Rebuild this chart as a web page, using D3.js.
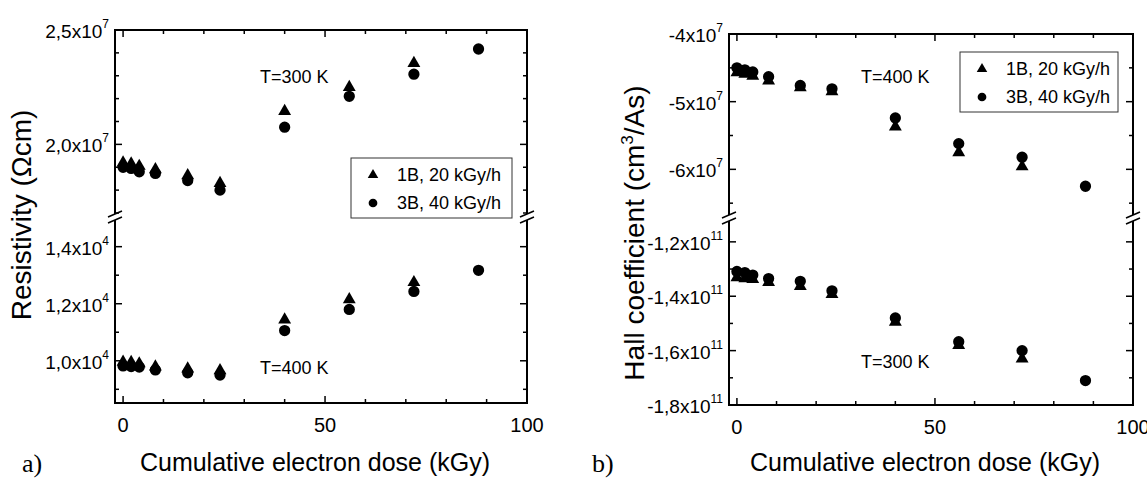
<!DOCTYPE html>
<html>
<head>
<meta charset="utf-8">
<script src="https://cdn.jsdelivr.net/npm/d3@7"></script>
<style>
  body { margin: 0; background: white; }
  text { font-family: "Liberation Sans", Arial, sans-serif; fill: black; }
  .panel-tag { font-family: "Liberation Serif", "Times New Roman", serif; }
</style>
</head>
<body>
<svg id="chart" width="1147" height="482"></svg>
<script>
// dosis acumulada (kGy)
const dose = [0, 2, 4, 8, 16, 24, 40, 56, 72, 88]

// a) resistividad
const rho300_1B = [1.92e7, 1.915e7, 1.905e7, 1.89e7, 1.864e7, 1.83e7, 2.145e7, 2.25e7, 2.355e7, null]
const rho300_3B = [1.90e7, 1.895e7, 1.88e7, 1.873e7, 1.842e7, 1.80e7, 2.075e7, 2.21e7, 2.307e7, 2.417e7]
const rho400_1B = [0.996e4, 0.995e4, 0.99e4, 0.979e4, 0.972e4, 0.966e4, 1.144e4, 1.215e4, 1.275e4, null]
const rho400_3B = [0.982e4, 0.98e4, 0.978e4, 0.968e4, 0.958e4, 0.95e4, 1.106e4, 1.18e4, 1.243e4, 1.317e4]

// b) coeficiente Hall
const hall400_1B = [-4.57e7, -4.59e7, -4.62e7, -4.69e7, -4.79e7, -4.85e7, -5.37e7, -5.75e7, -5.96e7, null]
const hall400_3B = [-4.50e7, -4.53e7, -4.56e7, -4.63e7, -4.76e7, -4.81e7, -5.24e7, -5.62e7, -5.82e7, -6.25e7]
const hall300_1B = [-1.331e11, -1.335e11, -1.338e11, -1.349e11, -1.363e11, -1.393e11, -1.495e11, -1.58e11, -1.63e11, null]
const hall300_3B = [-1.309e11, -1.313e11, -1.322e11, -1.335e11, -1.345e11, -1.38e11, -1.48e11, -1.567e11, -1.60e11, -1.71e11]

const xTicks = [0, 10, 20, 30, 40, 50, 60, 70, 80, 90, 100]
const xLabels = [0, 50, 100]
const seriesNames = ['1B, 20 kGy/h', '3B, 40 kGy/h']

// etiquetas de los ejes y: [valor, mantisa, exponente]
const rhoUpperLabels = [[2.0e7, '2,0', '7'], [2.5e7, '2,5', '7']]
const rhoUpperMinor = [1.7e7, 1.8e7, 1.9e7, 2.1e7, 2.2e7, 2.3e7, 2.4e7]
const rhoLowerLabels = [[1.0e4, '1,0', '4'], [1.2e4, '1,2', '4'], [1.4e4, '1,4', '4']]
const rhoLowerMinor = [0.9e4, 1.1e4, 1.3e4]
const hallUpperLabels = [[-4e7, '-4', '7'], [-5e7, '-5', '7'], [-6e7, '-6', '7']]
const hallUpperMinor = [-4.5e7, -5.5e7, -6.5e7]
const hallLowerLabels = [[-1.2e11, '-1,2', '11'], [-1.4e11, '-1,4', '11'], [-1.6e11, '-1,6', '11'], [-1.8e11, '-1,8', '11']]
const hallLowerMinor = [-1.3e11, -1.5e11, -1.7e11]

const svg = d3.select('#chart')

const triangle = d3.symbol().type(d3.symbolTriangle).size(72)
const circle = d3.symbol().type(d3.symbolCircle).size(100)

const drawPanel = (p) => {
    const g = svg.append('g')
    const x = d3.scaleLinear().domain([-2, 100]).range([p.left, p.right])
    const yU = d3.scaleLinear().domain(p.upperDomain).range([p.breakY - 4, p.top])
    const yL = d3.scaleLinear().domain(p.lowerDomain).range([p.bottom, p.breakY + 4])

    // marco
    g.append('rect')
        .attr('x', p.left).attr('y', p.top)
        .attr('width', p.right - p.left).attr('height', p.bottom - p.top)
        .attr('fill', 'none').attr('stroke', 'black').attr('stroke-width', 2)

    // ticks x (abajo y arriba, hacia dentro)
    xTicks.forEach(t => {
        const len = xLabels.includes(t) ? 7 : 4
        g.append('line').attr('x1', x(t)).attr('x2', x(t))
            .attr('y1', p.bottom).attr('y2', p.bottom - len)
            .attr('stroke', 'black').attr('stroke-width', 1.5)
        g.append('line').attr('x1', x(t)).attr('x2', x(t))
            .attr('y1', p.top).attr('y2', p.top + len)
            .attr('stroke', 'black').attr('stroke-width', 1.5)
    })
    xLabels.forEach(t => {
        g.append('text')
            .attr('x', x(t)).attr('y', p.bottom + 29)
            .attr('text-anchor', 'middle')
            .attr('font-size', 20)
            .text(t)
    })

    // ticks y
    const yTick = (y, len) => {
        g.append('line').attr('x1', p.left).attr('x2', p.left + len)
            .attr('y1', y).attr('y2', y).attr('stroke', 'black').attr('stroke-width', 1.5)
        g.append('line').attr('x1', p.right).attr('x2', p.right - len)
            .attr('y1', y).attr('y2', y).attr('stroke', 'black').attr('stroke-width', 1.5)
    }
    const yLabel = (y, mant, exp) => {
        const t = g.append('text')
            .attr('x', p.left - 6).attr('y', y + 8)
            .attr('text-anchor', 'end')
            .attr('font-size', 19)
        t.append('tspan').text(mant + 'x10')
        t.append('tspan').attr('font-size', 12).attr('dy', -10).text(exp)
    }
    p.upperLabels.forEach(d => { yTick(yU(d[0]), 7); yLabel(yU(d[0]), d[1], d[2]) })
    p.upperMinor.forEach(v => yTick(yU(v), 4))
    p.lowerLabels.forEach(d => { yTick(yL(d[0]), 7); yLabel(yL(d[0]), d[1], d[2]) })
    p.lowerMinor.forEach(v => yTick(yL(v), 4))

    // corte del eje
    ;[p.left, p.right].forEach(ax => {
        g.append('rect').attr('x', ax - 3).attr('y', p.breakY - 3)
            .attr('width', 6).attr('height', 6).attr('fill', 'white')
        ;[-3, 3].forEach(o => {
            g.append('line')
                .attr('x1', ax - 7).attr('y1', p.breakY + o + 3)
                .attr('x2', ax + 7).attr('y2', p.breakY + o - 3)
                .attr('stroke', 'black').attr('stroke-width', 1.5)
        })
    })

    // puntos
    const drawSeries = (vals, yScale, sym) => {
        g.append('g').selectAll('path')
            .data(dose.map((d, i) => ({ d, v: vals[i] })).filter(e => e.v !== null))
            .enter().append('path')
                .attr('d', sym)
                .attr('transform', e => `translate(${x(e.d)}, ${yScale(e.v)})`)
                .attr('fill', 'black')
    }
    drawSeries(p.upper1B, yU, triangle)
    drawSeries(p.upper3B, yU, circle)
    drawSeries(p.lower1B, yL, triangle)
    drawSeries(p.lower3B, yL, circle)

    // leyenda
    const lg = g.append('g').attr('transform', `translate(${p.legend[0]}, ${p.legend[1]})`)
    lg.append('rect').attr('width', p.legend[2]).attr('height', 60)
        .attr('fill', 'white').attr('stroke', '#333').attr('stroke-width', 1)
    lg.append('path').attr('d', d3.symbol().type(d3.symbolTriangle).size(48)())
        .attr('transform', 'translate(22, 17)')
    lg.append('path').attr('d', d3.symbol().type(d3.symbolCircle).size(60)())
        .attr('transform', 'translate(22, 45)')
    seriesNames.forEach((s, i) => {
        lg.append('text').attr('x', 46).attr('y', 23 + i * 28)
            .attr('font-size', 18).text(s)
    })

    // anotaciones de temperatura
    p.notes.forEach(n => {
        g.append('text').attr('x', n[0]).attr('y', n[1])
            .attr('font-size', 18).text(n[2])
    })

    // titulos
    g.append('text')
        .attr('x', (p.left + p.right) / 2 - 6).attr('y', 471)
        .attr('text-anchor', 'middle')
        .attr('font-size', 25)
        .text('Cumulative electron dose (kGy)')
    const yt = g.append('text')
        .attr('transform', `translate(${p.yTitleX}, ${p.yTitleY}) rotate(-90)`)
        .attr('text-anchor', 'middle')
        .attr('font-size', 28)
    p.yTitle(yt)
    g.append('text').attr('class', 'panel-tag')
        .attr('x', p.tag[0]).attr('y', p.tag[1])
        .attr('font-size', 26)
        .text(p.tag[2])
}

drawPanel({
    left: 115, right: 527, top: 30, bottom: 403, breakY: 217,
    upperDomain: [1.7e7, 2.5e7], lowerDomain: [0.852e4, 1.49e4],
    upper1B: rho300_1B, upper3B: rho300_3B, lower1B: rho400_1B, lower3B: rho400_3B,
    upperLabels: rhoUpperLabels, upperMinor: rhoUpperMinor,
    lowerLabels: rhoLowerLabels, lowerMinor: rhoLowerMinor,
    legend: [351, 158, 161],
    notes: [[260, 83, 'T=300 K'], [260, 374, 'T=400 K']],
    yTitleX: 31, yTitleY: 215,
    yTitle: t => t.text('Resistivity (Ωcm)'),
    tag: [22, 472, 'a)']
})

drawPanel({
    left: 729, right: 1133, top: 34, bottom: 405, breakY: 218,
    upperDomain: [-6.66e7, -4e7], lowerDomain: [-1.8e11, -1.127e11],
    upper1B: hall400_1B, upper3B: hall400_3B, lower1B: hall300_1B, lower3B: hall300_3B,
    upperLabels: hallUpperLabels, upperMinor: hallUpperMinor,
    lowerLabels: hallLowerLabels, lowerMinor: hallLowerMinor,
    legend: [960, 52, 158],
    notes: [[861, 83, 'T=400 K'], [861, 368, 'T=300 K']],
    yTitleX: 644, yTitleY: 233,
    yTitle: t => {
        t.append('tspan').text('Hall coefficient (cm')
        t.append('tspan').attr('font-size', 17).attr('dy', -11).text('3')
        t.append('tspan').attr('dy', 11).text('/As)')
    },
    tag: [592, 472, 'b)']
})
</script>
</body>
</html>
